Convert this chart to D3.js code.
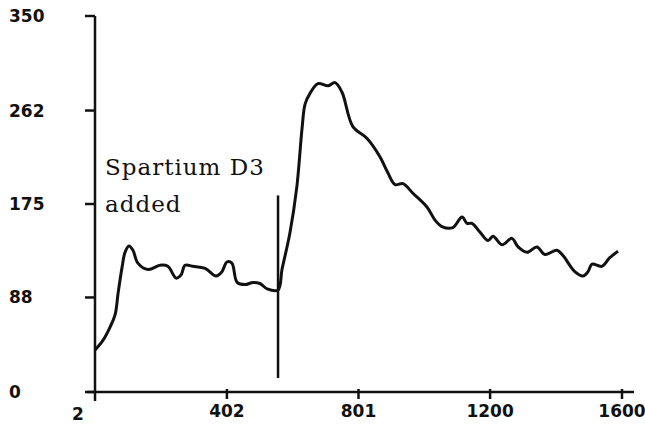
<!DOCTYPE html>
<html><head><meta charset="UTF-8">
<title>Spartium D3</title>
<script src="https://d3js.org/d3.v7.min.js"></script>
<style>
  body { margin: 0; background: #fff; }
  .tick-label { font-family: "DejaVu Sans", sans-serif; font-weight: bold; font-size: 17px; fill: #111; }
  .note { font-family: "DejaVu Serif", serif; font-size: 23px; fill: #111; letter-spacing: 1px; }
</style>
</head>
<body>
<svg id="chart" width="645" height="427"></svg>
<script>
// x positions of the trace
var xs = [2, 26, 47, 63, 72, 84, 93, 105, 117, 132, 163, 199, 223, 248, 263, 275, 299, 336, 369, 387, 402, 417,
          433, 457, 481, 502, 524, 557, 569, 593, 614, 630, 639, 654, 678, 709, 730, 751, 784, 827,
          866, 890, 912, 936, 966, 1009, 1033, 1054, 1087, 1115, 1130, 1145, 1169, 1194, 1209, 1236, 1266,
          1285, 1312, 1342, 1366, 1403, 1421, 1457, 1482, 1497, 1509, 1539, 1563, 1588];
// trace values
var ys = [39, 48, 60, 72, 92, 116, 130, 136, 132, 120, 114, 118, 117, 106, 109, 118, 117, 115, 108, 112, 121, 120,
          102, 100, 102, 101, 96, 95, 114, 148, 191, 246, 268, 278, 287, 285, 288, 279, 247, 236,
          219, 204, 193, 194, 185, 172, 160, 154, 153, 163, 157, 157, 149, 141, 145, 137, 143,
          135, 130, 135, 128, 132, 127, 112, 108, 112, 119, 117, 125, 131];
var yTicks = [0, 88, 175, 262, 350];
var xTicks = [2, 402, 801, 1200, 1600];
// marker where Spartium D3 was added
var markerX = 557;
var markerY = [13, 183];
var noteLines = ["Spartium D3", "added"];

var svg = d3.select("#chart");
var x = d3.scaleLinear().domain([2, 1600]).range([95, 622]);
var y = d3.scaleLinear().domain([0, 350]).range([392, 16]);

var data = xs.map(function(d, i) { return [d, ys[i]]; });

// axes drawn by hand to match the old plot style
var g = svg.append("g").attr("stroke", "#111").attr("stroke-width", 2.5).attr("fill", "none");
g.append("line").attr("x1", x(2)).attr("x2", x(2)).attr("y1", y(350)).attr("y2", y(0) + 9);
g.append("line").attr("x1", x(2) - 8).attr("x2", 634).attr("y1", y(0)).attr("y2", y(0));
g.selectAll(".yt").data(yTicks).enter().append("line")
  .attr("x1", x(2) - 10).attr("x2", x(2)).attr("y1", function(d) { return y(d); }).attr("y2", function(d) { return y(d); });
g.selectAll(".xt").data(xTicks.slice(1)).enter().append("line")
  .attr("x1", function(d) { return x(d); }).attr("x2", function(d) { return x(d); })
  .attr("y1", y(0) - 3).attr("y2", y(0) + 7);

svg.selectAll(".ylab").data(yTicks).enter().append("text")
  .attr("class", "tick-label")
  .attr("x", 9).attr("y", function(d) { return y(d) + 6; })
  .text(function(d) { return d; });

svg.selectAll(".xlab").data(xTicks).enter().append("text")
  .attr("class", "tick-label")
  .attr("text-anchor", "middle")
  .attr("x", function(d, i) { return x(d) - (i === 0 ? 17 : 0); })
  .attr("y", function(d, i) { return i === 0 ? 420 : 417; })
  .text(function(d) { return d; });

// marker line
svg.append("line")
  .attr("x1", x(markerX)).attr("x2", x(markerX))
  .attr("y1", y(markerY[0])).attr("y2", y(markerY[1]))
  .attr("stroke", "#111").attr("stroke-width", 2.5);

// trace
var line = d3.line()
  .x(function(d) { return x(d[0]); })
  .y(function(d) { return y(d[1]); })
  .curve(d3.curveCatmullRom);
svg.append("path").datum(data)
  .attr("d", line)
  .attr("fill", "none").attr("stroke", "#111").attr("stroke-width", 3)
  .attr("stroke-linejoin", "round");

svg.selectAll(".note").data(noteLines).enter().append("text")
  .attr("class", "note")
  .attr("x", 105).attr("y", function(d, i) { return 175 + i * 37; })
  .text(function(d) { return d; });
</script>
</body></html>
